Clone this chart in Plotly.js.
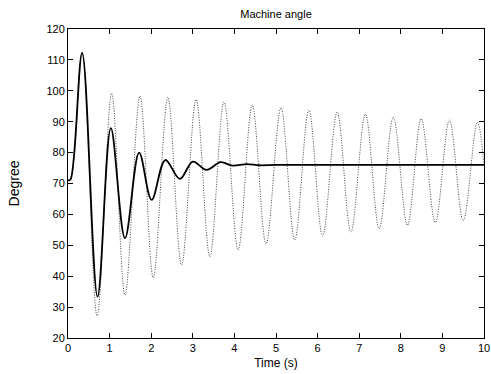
<!DOCTYPE html>
<html>
<head>
<meta charset="utf-8">
<script src="https://cdn.plot.ly/plotly-3.0.1.min.js"></script>
<style>html,body{margin:0;padding:0;background:#fff;}#chart{width:491px;height:374px;}</style>
</head>
<body>
<div id="chart"></div>
<script>
// Time (s) and angle (degree) samples (extrema and key points)
const tSolid = [0, 0.06, 0.34, 0.71, 1.03, 1.37, 1.71, 2.01, 2.34, 2.69, 3.0, 3.33, 3.67, 3.95, 4.3, 4.6, 5.0, 6.0, 7.0, 8.0, 9.0, 10.0];
const ySolid = [71, 71.3, 112.3, 33.4, 87.9, 52.3, 80.0, 64.7, 77.6, 71.5, 77.1, 74.4, 76.9, 75.8, 76.3, 75.9, 76.0, 76.0, 76.0, 76.0, 76.0, 76.0];

const tDotted = [0, 0.06, 0.34, 0.70, 1.05, 1.37, 1.73, 2.05, 2.40, 2.73, 3.08, 3.41, 3.75, 4.09, 4.43, 4.76, 5.12, 5.45, 5.79, 6.12, 6.47, 6.80, 7.15, 7.48, 7.82, 8.16, 8.49, 8.83, 9.17, 9.50, 9.84, 10.0];
const yDotted = [71, 71.3, 112.3, 27.2, 99.2, 33.9, 98.3, 39.5, 97.9, 43.6, 97.2, 46.3, 96.4, 48.5, 95.4, 50.4, 94.5, 51.7, 93.8, 53.0, 93.2, 54.3, 92.4, 55.4, 91.4, 56.5, 90.9, 57.4, 90.5, 58.0, 89.9, 76.0];

const xTicks = [0,1,2,3,4,5,6,7,8,9,10];
const yTicks = [20,30,40,50,60,70,80,90,100,110,120];

const traces = [
  {x: tDotted, y: yDotted, mode: 'lines', line: {color: '#444', width: 1, dash: '1px,1.5px', shape: 'spline', smoothing: 1}, hoverinfo: 'skip'},
  {x: tSolid, y: ySolid, mode: 'lines', line: {color: '#000', width: 1.8, shape: 'spline', smoothing: 1}, hoverinfo: 'skip'}
];

const axisCommon = {
  showgrid: false, zeroline: false, showline: true, linecolor: '#000', linewidth: 1,
  mirror: 'ticks', ticks: 'inside', ticklen: 5, tickcolor: '#000', tickwidth: 1,
  tickfont: {family: 'Liberation Sans, Arial, sans-serif', size: 11, color: '#000'}
};

const layout = {
  width: 491, height: 374,
  margin: {l: 68, r: 7, t: 29, b: 36},
  paper_bgcolor: '#fff', plot_bgcolor: '#fff',
  showlegend: false,
  title: {text: 'Machine angle', x: 0.5, xref: 'paper', xanchor: 'center', y: 0.962, yanchor: 'middle',
          font: {family: 'Liberation Sans, Arial, sans-serif', size: 11, color: '#000'}},
  xaxis: Object.assign({}, axisCommon, {
    range: [0, 10], tickvals: xTicks, ticktext: xTicks.map(String),
    title: {text: 'Time (s)', standoff: 5, font: {family: 'Liberation Sans, Arial, sans-serif', size: 12, color: '#000'}}
  }),
  yaxis: Object.assign({}, axisCommon, {
    range: [20, 120], tickvals: yTicks, ticktext: yTicks.map(String),
    title: {text: 'Degree', standoff: 23, font: {family: 'Liberation Sans, Arial, sans-serif', size: 14, color: '#000'}}
  })
};

Plotly.newPlot('chart', traces, layout, {staticPlot: true, displayModeBar: false});
</script>
</body>
</html>
